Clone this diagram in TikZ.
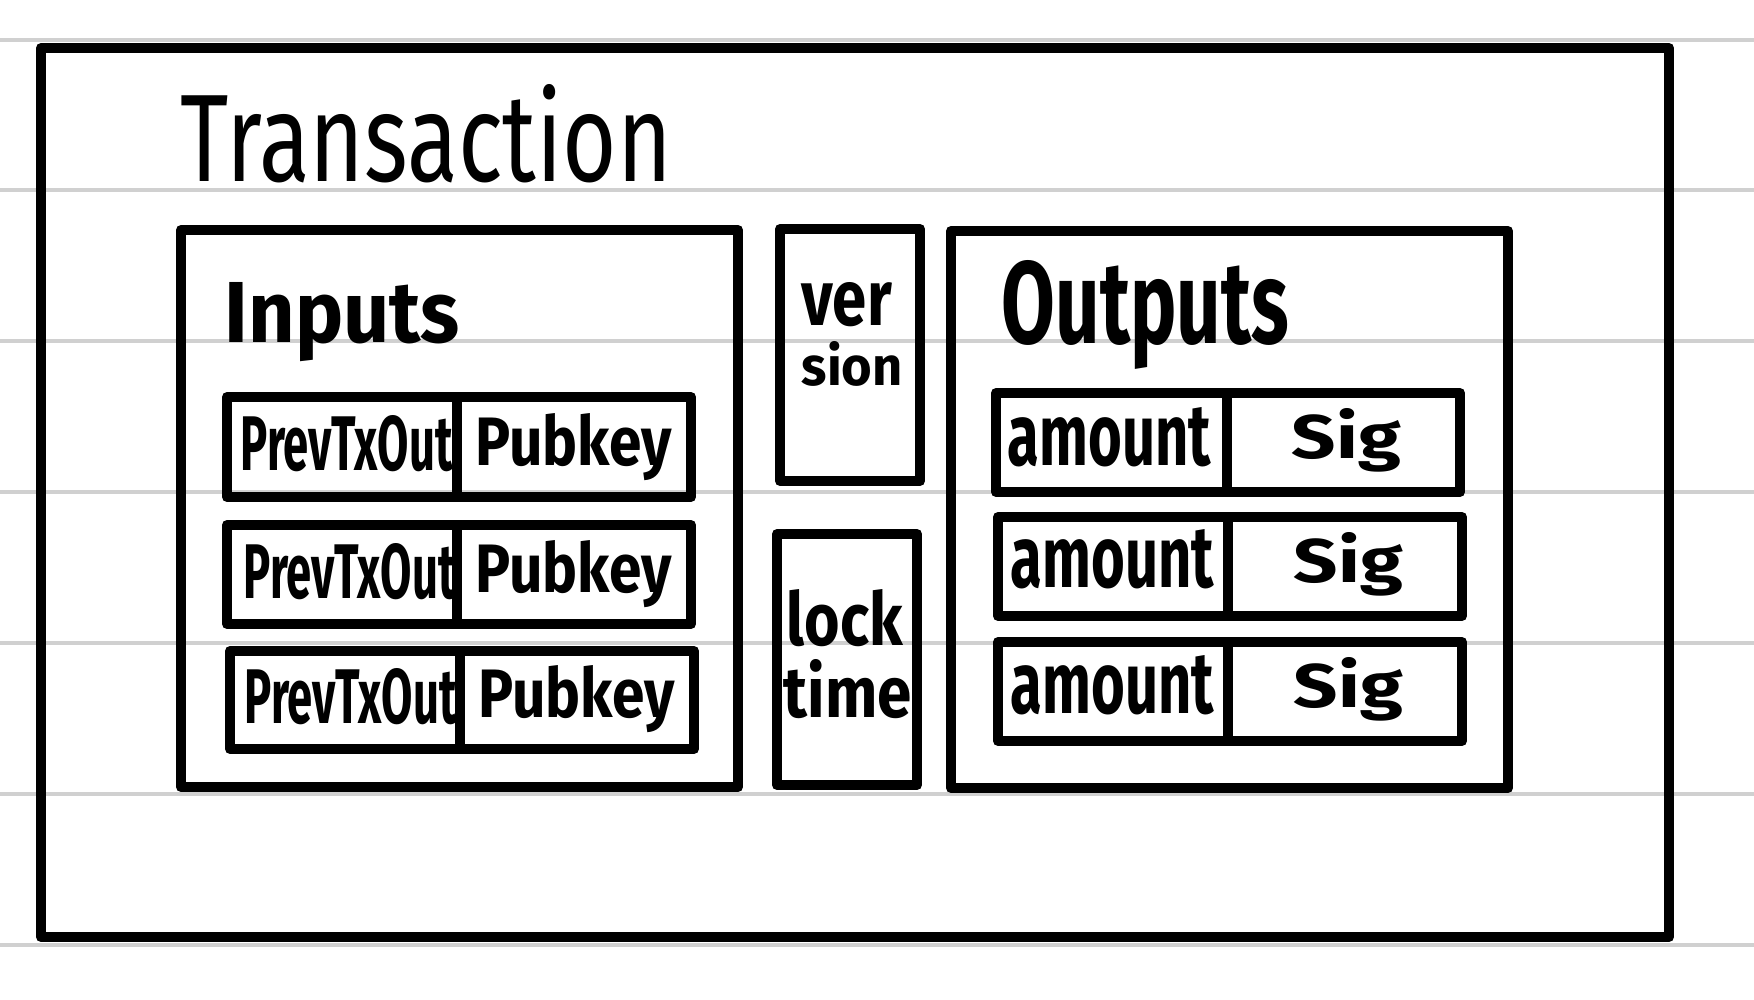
\documentclass[tikz,border=0pt]{standalone}
\usepackage{fontspec}
\setmainfont{Fira Sans}
\usepackage{graphicx}
\usepackage{xcolor}
\definecolor{ruleline}{RGB}{208,208,208}
\newcommand{\fitword}[3]{\resizebox{#1}{#2}{#3}}
\tikzset{
    frame/.style={line width=1mm,black,line join=round},
    word/.style={anchor=base west,inner sep=0pt,font=\bfseries},
}

\begin{document}
\begin{tikzpicture}[x=0.01cm,y=-0.01cm]
    \useasboundingbox (0,0) rectangle (1754,1000);
        % paper lines
        \draw[line width=0.45mm,ruleline] (0,40)--(1754,40);
        \draw[line width=0.45mm,ruleline] (0,190)--(1754,190);
        \draw[line width=0.45mm,ruleline] (0,341)--(1754,341);
        \draw[line width=0.45mm,ruleline] (0,492)--(1754,492);
        \draw[line width=0.45mm,ruleline] (0,643)--(1754,643);
        \draw[line width=0.45mm,ruleline] (0,794)--(1754,794);
        \draw[line width=0.45mm,ruleline] (0,945)--(1754,945);
        % transaction
        \draw[frame] (41,48) rectangle (1669,937);
        \node[word,font=\mdseries] (title) at (180,181) {\fitword{49.1mm}{9.7mm}{Transaction}};
        % inputs
        \draw[frame] (181,230) rectangle (738,787);
        \node[word] (inputs) at (224,342) {\fitword{23.5mm}{6.0mm}{Inputs}};
        \draw[frame] (227,397) rectangle (691,497);
        \draw[frame] (457,397)--(457,497);
        \node[word] (prev1) at (240,470) {\fitword{21.2mm}{5.5mm}{PrevTxOut}};
        \node[word] (pub1) at (475,465) {\fitword{19.6mm}{5.2mm}{Pubkey}};
        \draw[frame] (227,525) rectangle (691,624);
        \draw[frame] (457,525)--(457,624);
        \node[word] (prev2) at (243,598) {\fitword{21.2mm}{5.5mm}{PrevTxOut}};
        \node[word] (pub2) at (475,592) {\fitword{19.6mm}{5.2mm}{Pubkey}};
        \draw[frame] (230,651) rectangle (694,749);
        \draw[frame] (460,651)--(460,749);
        \node[word] (prev3) at (244,723) {\fitword{21.2mm}{5.5mm}{PrevTxOut}};
        \node[word] (pub3) at (478,717) {\fitword{19.6mm}{5.2mm}{Pubkey}};
        % version and lock time
        \draw[frame] (780,229) rectangle (920,481);
        \node[word] (ver) at (801,325) {\fitword{9.0mm}{4.3mm}{ver}};
        \node[word] (sion) at (801,385) {\fitword{10.1mm}{4.4mm}{sion}};
        \draw[frame] (777,534) rectangle (917,785);
        \node[word] (lock) at (786,645) {\fitword{11.6mm}{5.6mm}{lock}};
        \node[word] (time) at (783,717) {\fitword{12.8mm}{5.8mm}{time}};
        % outputs
        \draw[frame] (951,231) rectangle (1508,788);
        \node[word] (outputs) at (1001,343) {\fitword{28.7mm}{8.3mm}{Outputs}};
        \draw[frame] (996,393) rectangle (1460,492);
        \draw[frame] (1227,393)--(1227,492);
        \node[word] (amt1) at (1007,465) {\fitword{20.3mm}{5.8mm}{amount}};
        \node[word] (sig1) at (1291,458) {\fitword{10.9mm}{5.0mm}{Sig}};
        \draw[frame] (998,517) rectangle (1462,616);
        \draw[frame] (1228,517)--(1228,616);
        \node[word] (amt2) at (1010,587) {\fitword{20.3mm}{5.8mm}{amount}};
        \node[word] (sig2) at (1293,582) {\fitword{10.9mm}{5.0mm}{Sig}};
        \draw[frame] (998,642) rectangle (1462,741);
        \draw[frame] (1228,642)--(1228,741);
        \node[word] (amt3) at (1010,713) {\fitword{20.3mm}{5.8mm}{amount}};
        \node[word] (sig3) at (1293,707) {\fitword{10.9mm}{5.0mm}{Sig}};
    \end{tikzpicture}
\end{document}
